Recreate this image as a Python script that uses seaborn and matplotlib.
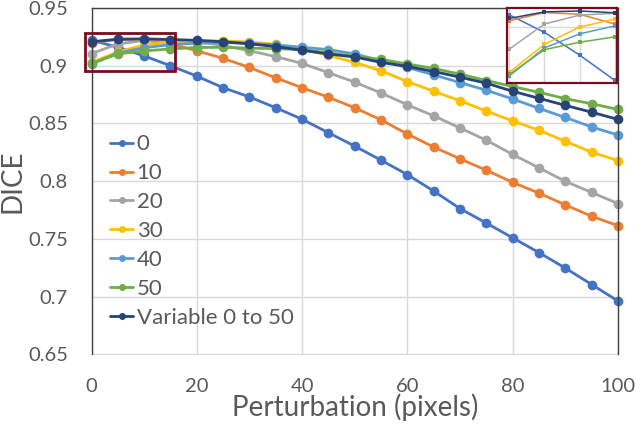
import seaborn as sns
import matplotlib.pyplot as plt
import matplotlib.ticker as mticker
from matplotlib.lines import Line2D
from matplotlib.patches import Rectangle
import pandas as pd

# Datos
perturbation = [0, 5, 10, 15, 20, 25, 30, 35, 40, 45, 50,
                55, 60, 65, 70, 75, 80, 85, 90, 95, 100]

dice_0 = [0.9220, 0.9161, 0.9085, 0.9000, 0.8910, 0.8810, 0.8730, 0.8636, 0.8537, 0.8420, 0.8304,
          0.8182, 0.8057, 0.7915, 0.7763, 0.7638, 0.7510, 0.7382, 0.7248, 0.7106, 0.6963]
dice_10 = [0.9200, 0.9228, 0.9222, 0.9189, 0.9130, 0.9064, 0.8985, 0.8895, 0.8810, 0.8727, 0.8636,
           0.8531, 0.8409, 0.8296, 0.8194, 0.8095, 0.7990, 0.7897, 0.7795, 0.7697, 0.7615]
dice_20 = [0.9105, 0.9189, 0.9219, 0.9225, 0.9210, 0.9175, 0.9130, 0.9079, 0.9020, 0.8940, 0.8858,
           0.8764, 0.8662, 0.8566, 0.8461, 0.8355, 0.8232, 0.8116, 0.7999, 0.7903, 0.7807]
dice_30 = [0.9027, 0.9121, 0.9179, 0.9206, 0.9215, 0.9215, 0.9205, 0.9186, 0.9146, 0.9090, 0.9029,
           0.8956, 0.8863, 0.8779, 0.8697, 0.8607, 0.8522, 0.8441, 0.8346, 0.8252, 0.8179]
dice_40 = [0.9015, 0.9109, 0.9156, 0.9183, 0.9195, 0.9200, 0.9195, 0.9180, 0.9160, 0.9140, 0.9102,
           0.9044, 0.8985, 0.8921, 0.8854, 0.8788, 0.8712, 0.8631, 0.8552, 0.8470, 0.8400]
dice_50 = [0.9020, 0.9103, 0.9128, 0.9146, 0.9158, 0.9160, 0.9152, 0.9148, 0.9140, 0.9112, 0.9080,
           0.9055, 0.9015, 0.8977, 0.8927, 0.8872, 0.8820, 0.8770, 0.8715, 0.8671, 0.8622]
dice_var = [0.9208, 0.9230, 0.9233, 0.9227, 0.9220, 0.9208, 0.9190, 0.9166, 0.9134, 0.9102, 0.9076,
            0.9029, 0.8994, 0.8950, 0.8901, 0.8849, 0.8779, 0.8718, 0.8657, 0.8598, 0.8535]

series_names = ["0", "10", "20", "30", "40", "50", "Variable 0 to 50"]
series_values = [dice_0, dice_10, dice_20, dice_30, dice_40, dice_50, dice_var]
colors = ["#4472C4", "#ED7D31", "#A5A5A5", "#FFC000", "#5B9BD5", "#70AD47", "#264478"]

x_ticks = [0, 20, 40, 60, 80, 100]
y_ticks = [0.65, 0.7, 0.75, 0.8, 0.85, 0.9, 0.95]

# Tabla larga para seaborn
df = pd.concat([pd.DataFrame({"x": perturbation, "dice": vals, "serie": name})
                for name, vals in zip(series_names, series_values)], ignore_index=True)
palette = dict(zip(series_names, colors))

sns.set_theme(style="white")
plt.rcParams["font.family"] = ["Lato", "DejaVu Sans"]

text_gray = "#595959"
grid_gray = "#D9D9D9"
spine_gray = "#404040"
box_red = "#7B0A1E"

fig = plt.figure(figsize=(6.36, 4.26), dpi=100)
ax = fig.add_axes([91.5 / 636, 1 - 354.5 / 426, 526.5 / 636, 346.5 / 426])

sns.lineplot(data=df, x="x", y="dice", hue="serie", hue_order=series_names, palette=palette,
             marker="o", markersize=7, markeredgewidth=0, linewidth=2, clip_on=False,
             legend=False, ax=ax)

ax.set_xlim(0, 100)
ax.set_ylim(0.65, 0.95)
ax.set_xticks(x_ticks)
ax.set_yticks(y_ticks)
ax.yaxis.set_major_formatter(mticker.FuncFormatter(lambda v, p: f"{v:g}"))
ax.grid(True, color=grid_gray, linewidth=1)
ax.set_axisbelow(True)
ax.tick_params(axis="both", length=0, labelsize=14.5, labelcolor=text_gray)
ax.tick_params(axis="y", pad=17)
ax.tick_params(axis="x", pad=17)
for side in ["left", "top", "right"]:
    ax.spines[side].set_color(spine_gray)
    ax.spines[side].set_linewidth(1)
ax.spines["bottom"].set_visible(False)

ax.set_xlabel("Perturbation (pixels)", fontsize=20, color=text_gray, labelpad=-1)
ax.set_ylabel("DICE", fontsize=20, color=text_gray, labelpad=2)

# Leyenda
handles = [Line2D([], [], color=c, marker="o", markersize=5, markeredgewidth=0, linewidth=2)
           for c in colors]
leg = ax.legend(handles, series_names, loc="upper left", bbox_to_anchor=(0.035, 0.635),
                frameon=False, fontsize=16, handlelength=1.05, handletextpad=0.15,
                labelspacing=0.4, borderaxespad=0, borderpad=0)
for t in leg.get_texts():
    t.set_color(text_gray)

# Recuadro de la zona ampliada
ax.add_patch(Rectangle((-1.3, 0.8956), 17.2, 0.0326, fill=False, edgecolor=box_red,
                       linewidth=2, clip_on=False, zorder=5))

# Grafico ampliado
ax_in = fig.add_axes([506.7 / 636, 1 - 82.7 / 426, 110.6 / 636, 74.4 / 426])
df_in = df[df["x"] <= 15]
sns.lineplot(data=df_in, x="x", y="dice", hue="serie", hue_order=series_names, palette=palette,
             marker="s", markersize=3.5, markeredgewidth=0, linewidth=1.1, legend=False, ax=ax_in)
ax_in.set_xlim(-0.37, 15.37)
ax_in.set_ylim(0.8992, 0.9242)
ax_in.set_xticks([0, 5, 10, 15])
ax_in.set_yticks([0.918])
ax_in.grid(True, color=grid_gray, linewidth=1)
ax_in.set_axisbelow(True)
ax_in.set_xticklabels([])
ax_in.set_yticklabels([])
ax_in.tick_params(length=0)
ax_in.set_xlabel("")
ax_in.set_ylabel("")
ax_in.set_facecolor("white")
for side in ax_in.spines.values():
    side.set_color(box_red)
    side.set_linewidth(1.6)

fig.savefig("out.png", dpi=100)
